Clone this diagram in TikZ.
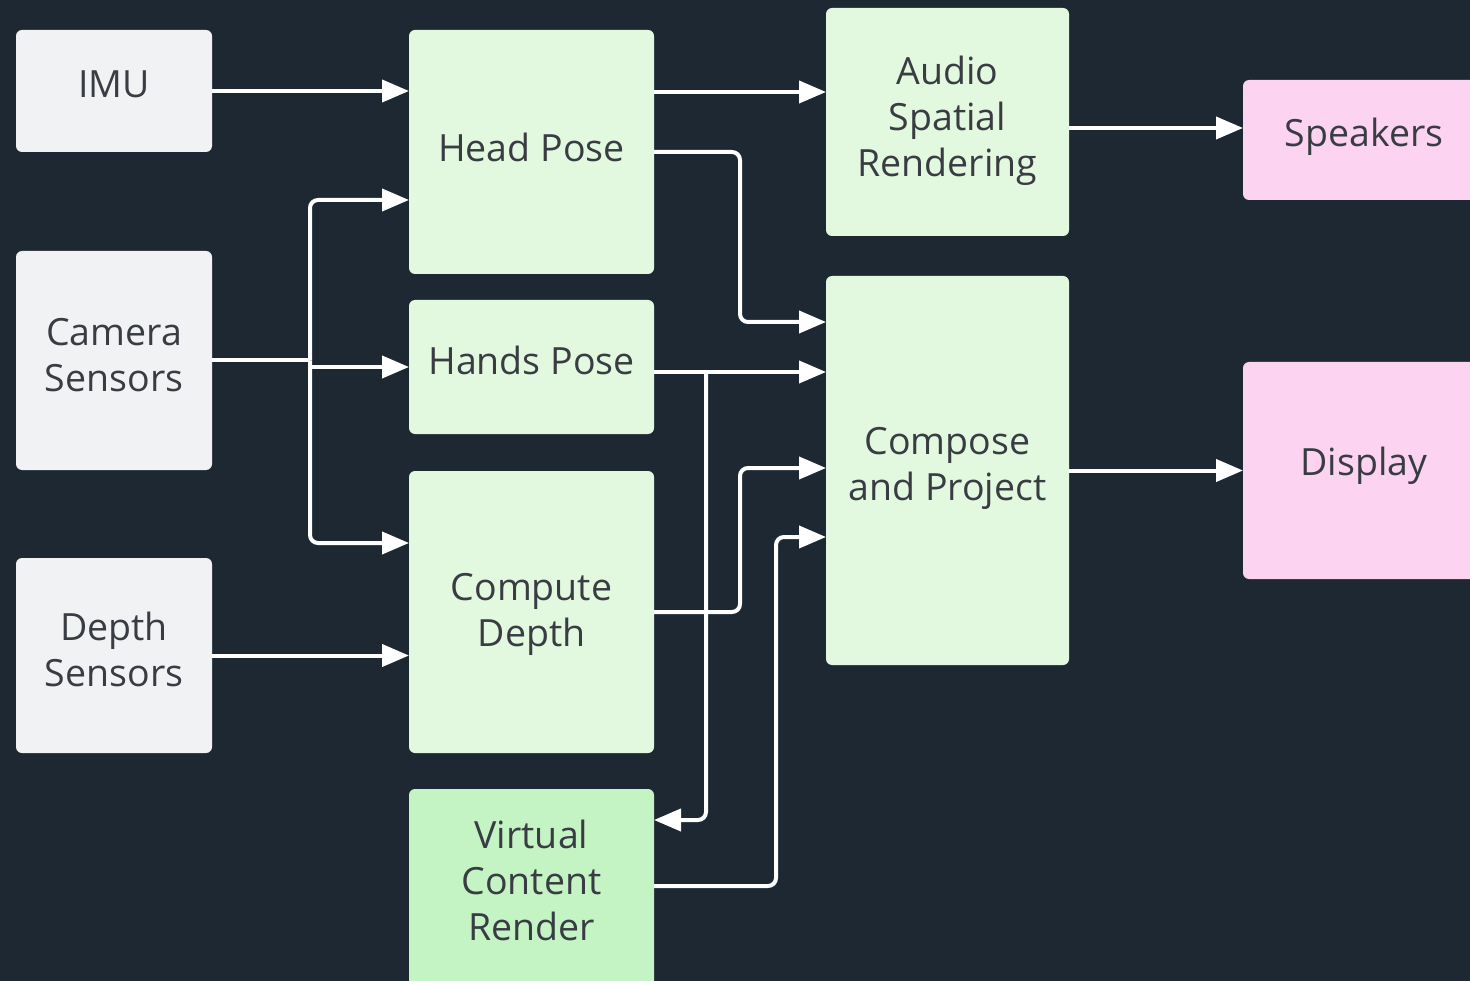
\documentclass[tikz,border=0pt]{standalone}
\usepackage{fontspec}
\setmainfont{Open Sans}
\usetikzlibrary{arrows.meta,calc}
\definecolor{bgc}{HTML}{1D2832}
\definecolor{grayc}{HTML}{F1F2F4}
\definecolor{greenc}{HTML}{E3F9DF}
\definecolor{vgreenc}{HTML}{C4F4C4}
\definecolor{pinkc}{HTML}{FCD4F2}
\definecolor{txtc}{HTML}{3A3C44}
\tikzset{
  box/.style={rectangle, rounded corners=6pt, inner sep=0pt, outer sep=0pt},
  lbl/.style={text=txtc, align=center, inner sep=0pt, font=\fontsize{37.5}{46}\selectfont},
  conn/.style={draw=white, line width=4pt, rounded corners=8pt,
    -{Triangle[length=27pt,width=22pt]}},
  plain/.style={draw=white, line width=4pt, rounded corners=8pt}
}
\begin{document}
\begin{tikzpicture}[x=1pt,y=-1pt]
\fill[bgc] (0,0) rectangle (1470,981);
\useasboundingbox (0,0) rectangle (1470,981);
% left column
\node[box, fill=grayc, minimum width=196pt, minimum height=122pt] (imu) at (114,91) {};
\node[lbl] (imut) at (114,84) {IMU};
\node[box, fill=grayc, minimum width=196pt, minimum height=219pt] (camera) at (114,360.5) {};
\node[lbl] (camerat) at (114,355) {Camera\\Sensors};
\node[box, fill=grayc, minimum width=196pt, minimum height=195pt] (dsens) at (114,655.5) {};
\node[lbl] (dsenst) at (114,649) {Depth\\Sensors};
% middle column
\node[box, fill=greenc, minimum width=245pt, minimum height=244pt] (head) at (531.5,152) {};
\node[lbl] (headt) at (531.5,147) {Head Pose};
\node[box, fill=greenc, minimum width=245pt, minimum height=134pt] (hands) at (531.5,367) {};
\node[lbl] (handst) at (531.5,360) {Hands Pose};
\node[box, fill=greenc, minimum width=245pt, minimum height=282pt] (compute) at (531.5,612) {};
\node[lbl] (computet) at (531.5,614) {Compute\\Depth};
\node[box, fill=vgreenc, minimum width=245pt, minimum height=220pt] (virtual) at (531.5,899) {};
\node[lbl] (virtualt) at (531.5,880) {Virtual\\Content\\Render};
% right-middle column
\node[box, fill=greenc, minimum width=243pt, minimum height=228pt] (audio) at (947.5,122) {};
\node[lbl] (audiot) at (947.5,121) {Audio\\Spatial\\Rendering};
\node[box, fill=greenc, minimum width=243pt, minimum height=389pt] (compose) at (947.5,470.5) {};
\node[lbl] (composet) at (947.5,468) {Compose\\and Project};
% outputs
\node[box, fill=pinkc, minimum width=260pt, minimum height=120pt] (speakers) at (1373,140) {};
\node[lbl] (speakerst) at (1364,137) {Speakers};
\node[box, fill=pinkc, minimum width=260pt, minimum height=217pt] (display) at (1373,470.5) {};
\node[lbl] (displayt) at (1364,466) {Display};
% connectors
\draw[conn] (imu.east) -- (imu.east -| head.west);
\draw[conn] ($(head.north east)+(0,62)$) -- ($(audio.north west)+(0,84)$);
\draw[conn] (head.east) -- ++(86,0) |- ($(compose.north west)+(0,46)$);
\draw[plain] (camera.east) -- ++(98,0) coordinate (split);
\draw[conn] (split) |- ($(head.north west)+(0,170)$);
\draw[conn] (split |- hands.west) -- (hands.west);
\draw[conn] (split) |- ($(compute.north west)+(0,72)$);
\draw[conn] (dsens.east) -- (dsens.east -| compute.west);
\draw[conn] ($(hands.east)+(0,5)$) -- ($(compose.north west)+(0,96)$);
\draw[conn] ($(hands.east)+(52,5)$) coordinate (hsplit) |- ($(virtual.north east)+(0,31)$);
\draw[conn] (compute.east) -- ++(86,0) |- ($(compose.north west)+(0,192)$);
\draw[conn] ($(virtual.north east)+(0,97)$) -- ++(122,0) |- ($(compose.north west)+(0,261)$);
\draw[conn] ($(audio.north east)+(0,120)$) -- ($(speakers.north west)+(0,48)$);
\draw[conn] (compose.east) -- (compose.east -| display.west);
\end{tikzpicture}
\end{document}
